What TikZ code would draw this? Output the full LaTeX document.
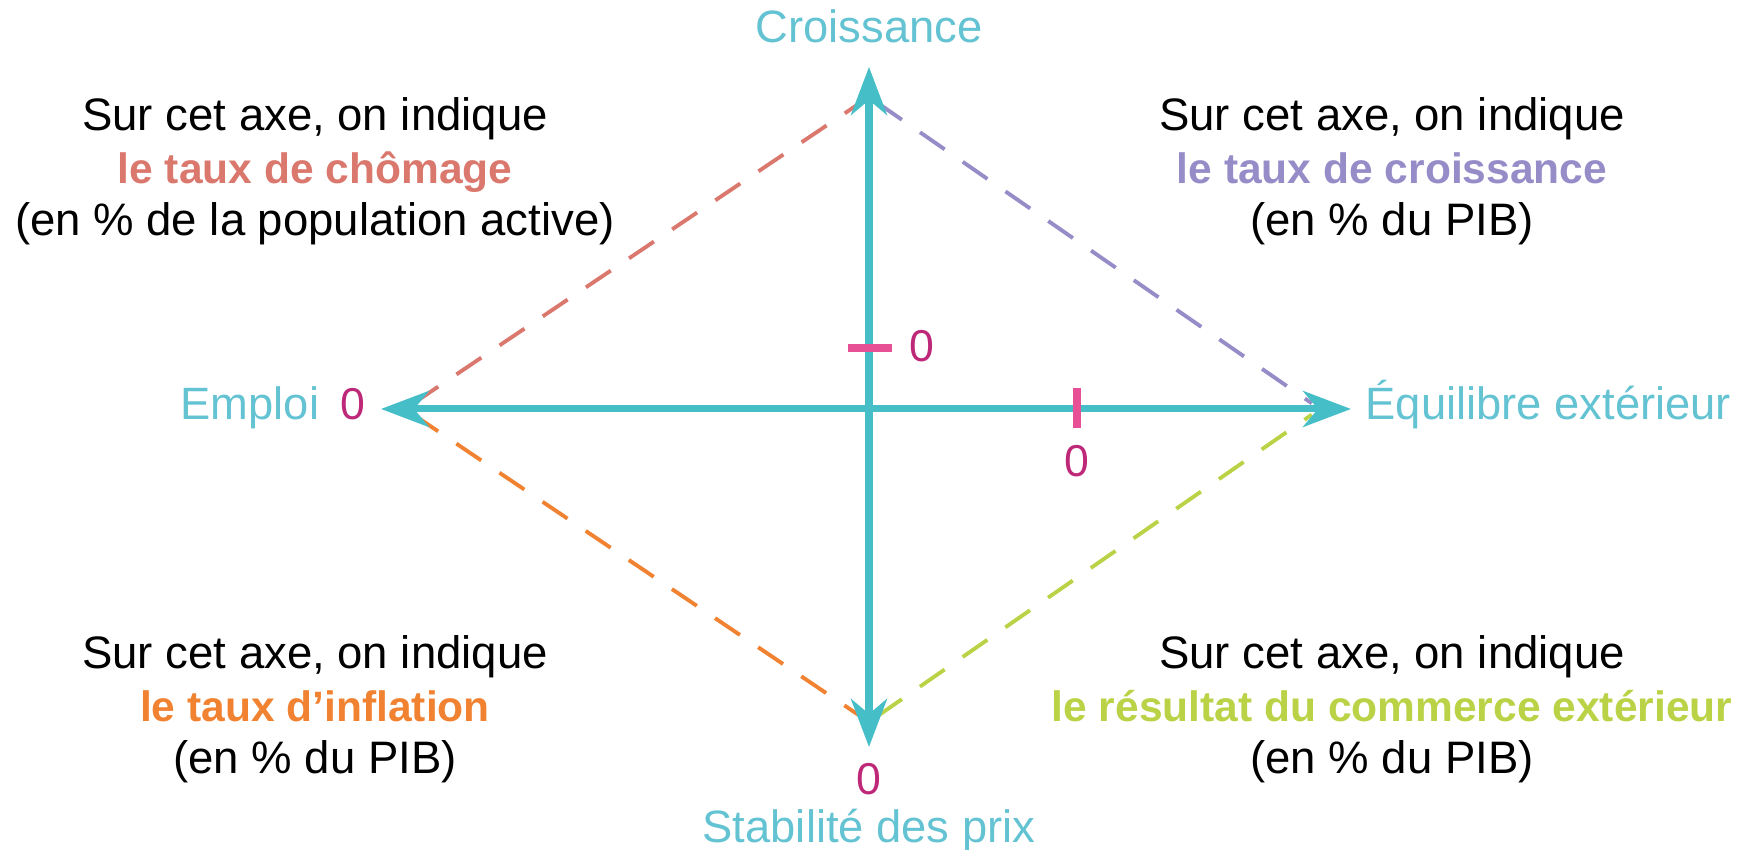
\documentclass[tikz,border=0pt]{standalone}
\usepackage{fontspec}
\setmainfont{Liberation Sans}
\usetikzlibrary{arrows.meta,positioning}
\definecolor{axiscol}{RGB}{70,190,200}
\definecolor{labcol}{RGB}{100,195,210}
\definecolor{zerocol}{RGB}{190,40,120}
\definecolor{tickcol}{RGB}{232,80,150}
\definecolor{chomcol}{RGB}{218,120,110}
\definecolor{croicol}{RGB}{150,140,200}
\definecolor{inflcol}{RGB}{240,130,50}
\definecolor{commcol}{RGB}{185,210,70}
\newcommand{\keyterm}[2]{{\fontsize{12.1}{15}\selectfont\bfseries\color{#1}#2}}
\tikzset{
  axis/.style     = {line width=2pt, draw=axiscol,
                     {Stealth[length=4.8mm,width=3.6mm,inset=1.5mm]}-{Stealth[length=4.8mm,width=3.6mm,inset=1.5mm]}},
  dia/.style      = {line width=1.1pt, dash pattern=on 3mm off 2.2mm,
                     shorten <=1mm, shorten >=1mm},
  tickmark/.style = {line width=2.3pt, draw=tickcol},
  axlab/.style    = {inner sep=0pt, text=labcol, font=\fontsize{12.9}{15}\selectfont},
  zero/.style     = {inner sep=0pt, text=zerocol, font=\fontsize{12.7}{15}\selectfont},
  note/.style     = {inner sep=0pt, align=center, font=\fontsize{12.95}{15}\selectfont}
}
\begin{document}
\begin{tikzpicture}
  \useasboundingbox (-8.69,-4.41) rectangle (8.80,4.09);
  % arrow tips of the two axes
  \coordinate (O) at (0,0);
  \coordinate (top) at (0,3.42);
  \coordinate (bot) at (0,-3.38);
  \coordinate (lft) at (-4.88,0);
  \coordinate (rgt) at (4.82,0);
  % corners of the dashed diamond
  \coordinate (dT) at (0,3.12);
  \coordinate (dB) at (0,-3.13);
  \coordinate (dL) at (-4.64,0);
  \coordinate (dR) at (4.51,0);
  \draw[dia, chomcol] (dL) -- (dT);
  \draw[dia, croicol] (dT) -- (dR);
  \draw[dia, inflcol] (dL) -- (dB);
  \draw[dia, commcol] (dB) -- (dR);
  % axes
  \draw[axis] (bot) -- (top);
  \draw[axis] (lft) -- (rgt);
  \draw[tickmark] (-0.21,0.61) -- (0.23,0.61);
  \draw[tickmark] (2.08,0.21) -- (2.08,-0.19);
  % axis labels
  \node[axlab, anchor=base] (croiss) at (0,3.66) {Croissance};
  \node[axlab, anchor=base] (stab) at (0,-4.34) {Stabilité des prix};
  \node[axlab, anchor=base east] (emploi) at (-5.49,-0.11) {Emploi};
  \node[axlab, anchor=base west] (equil) at (4.96,-0.11) {Équilibre extérieur};
  \node[zero, anchor=base] (z-emp) at (-5.16,-0.11) {0};
  \node[zero, anchor=base] (z-stab) at (0,-3.86) {0};
  \node[zero, anchor=base] (z-croi) at (0.53,0.47) {0};
  \node[zero, anchor=base] (z-equi) at (2.08,-0.68) {0};
  % notes (base = last line)
  \node[note, anchor=base] (tl) at (-5.54,1.73)
    {Sur cet axe, on indique\\ \keyterm{chomcol}{le taux de chômage}\\ (en \% de la population active)};
  \node[note, anchor=base] (tr) at (5.23,1.73)
    {Sur cet axe, on indique\\ \keyterm{croicol}{le taux de croissance}\\ (en \% du PIB)};
  \node[note, anchor=base] (bl) at (-5.54,-3.65)
    {Sur cet axe, on indique\\ \keyterm{inflcol}{le taux d’inflation}\\ (en \% du PIB)};
  \node[note, anchor=base] (br) at (5.23,-3.65)
    {Sur cet axe, on indique\\ \keyterm{commcol}{le résultat du commerce extérieur}\\ (en \% du PIB)};
\end{tikzpicture}
\end{document}
